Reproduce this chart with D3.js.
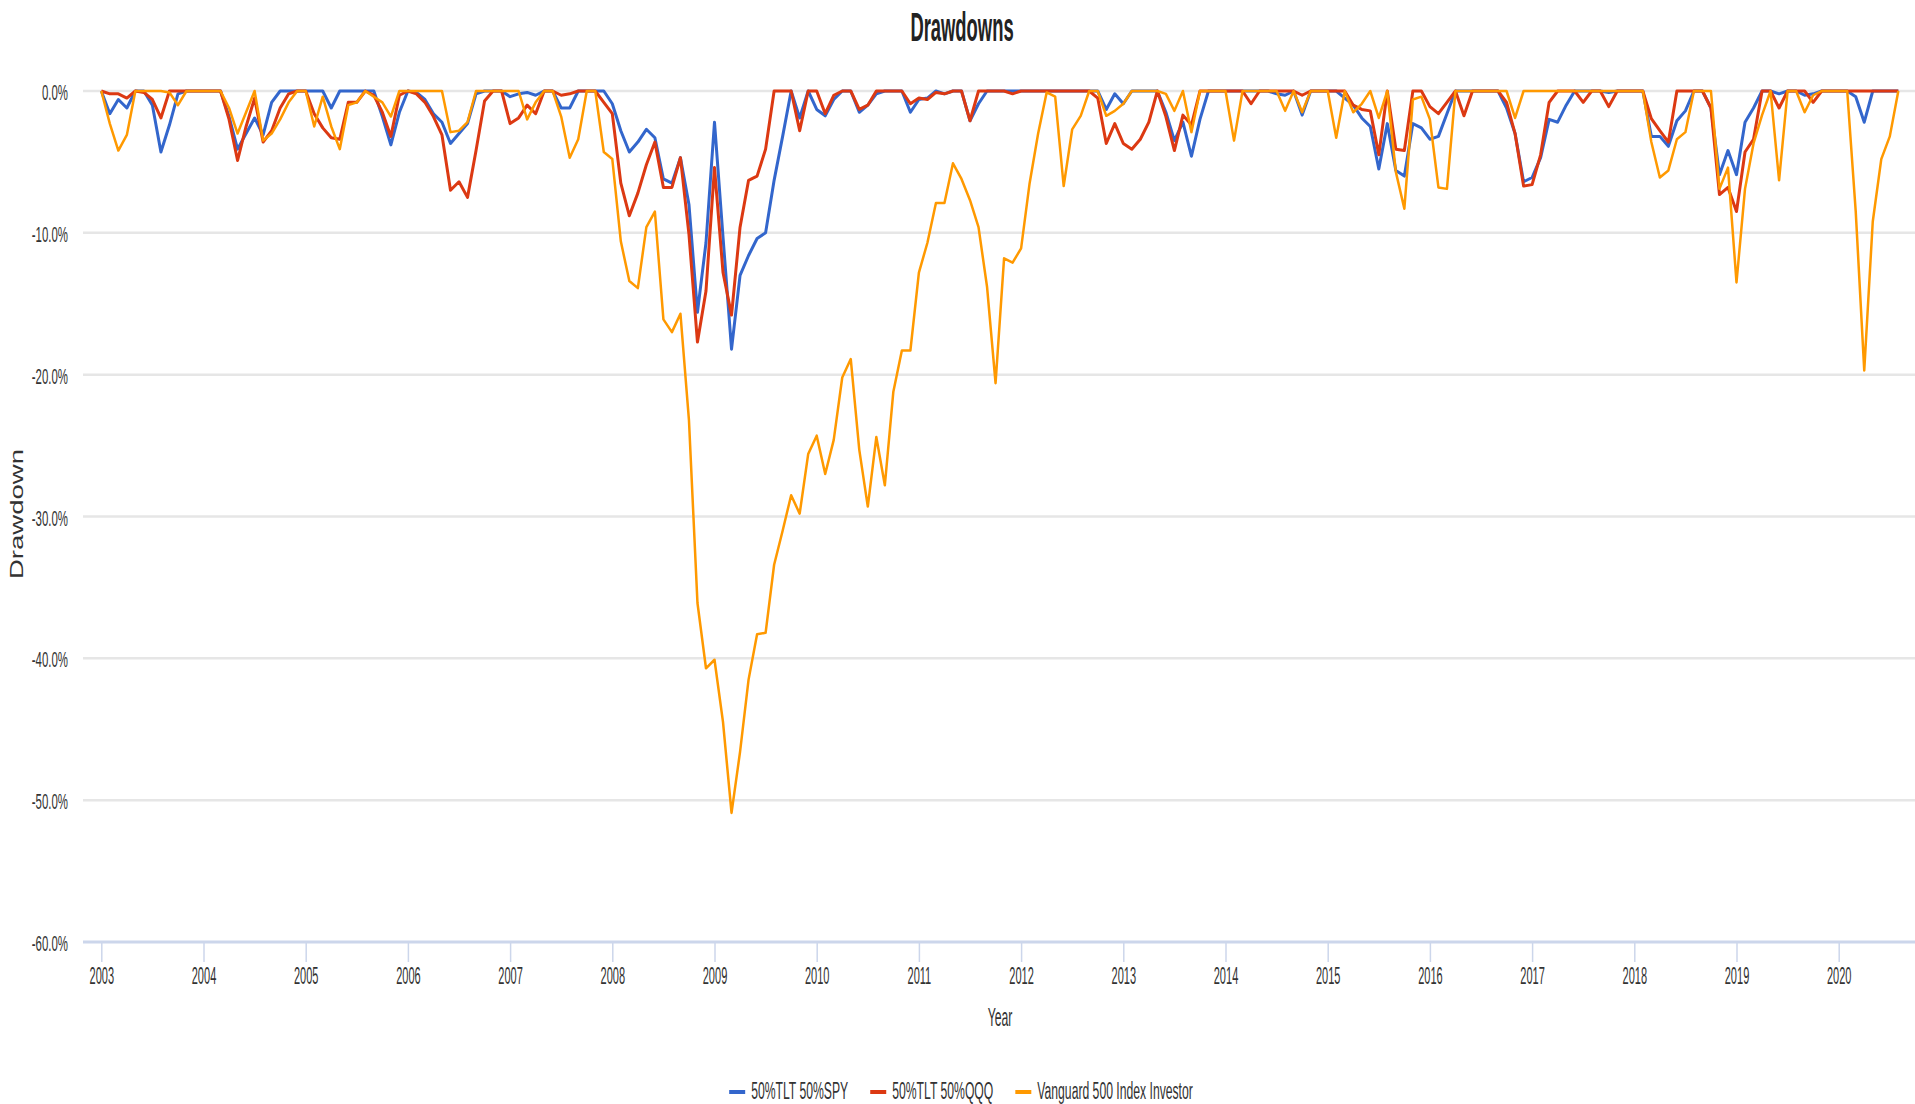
<!DOCTYPE html>
<html>
<head>
<meta charset="utf-8">
<script src="https://cdn.jsdelivr.net/npm/d3@7"></script>
<style>
  body { margin: 0; background: #fff; }
  svg { display: block; font-family: "Liberation Sans", Arial, sans-serif; }
</style>
</head>
<body>
<svg width="1915" height="1104"></svg>
<script>
// monthly drawdowns in %, Jan 2003 .. Aug 2020
const spy = [
  0, -1.6, -0.6, -1.2, 0, 0, -1.0, -4.3, -2.4, -0.2, 0, 0,
  0, 0, 0, -1.8, -4.1, -3.0, -1.9, -3.1, -0.8, 0, 0, 0,
  0, 0, 0, -1.2, 0, 0, 0, 0, 0, -1.8, -3.8, -1.5,
  0, -0.1, -0.6, -1.6, -2.2, -3.7, -3.0, -2.3, -0.2, 0, 0, 0,
  -0.4, -0.2, -0.1, -0.3, 0, 0, -1.2, -1.2, 0, 0, 0, 0,
  -0.9, -2.8, -4.3, -3.6, -2.7, -3.3, -6.2, -6.5, -4.7, -8.0, -15.6, -10.7,
  -2.2, -10.3, -18.2, -13.0, -11.6, -10.4, -10.0, -6.3, -3.2, 0, -1.9, 0,
  -1.3, -1.75, -0.6, 0, 0, -1.5, -1.0, -0.2, 0, 0, 0, -1.5,
  -0.6, -0.5, 0, -0.2, 0, 0, -2.1, -0.9, 0, 0, 0, 0,
  0, 0, 0, 0, 0, 0, 0, 0, 0, 0, -1.3, -0.2,
  -0.9, 0, 0, 0, 0, -1.5, -3.5, -2.2, -4.6, -2.0, 0, 0,
  0, 0, 0, 0, 0, 0, -0.2, -0.3, 0, -1.7, 0, 0,
  0, 0, -0.5, -1.0, -1.9, -2.5, -5.5, -2.3, -5.6, -6.0, -2.3, -2.6,
  -3.4, -3.2, -1.6, 0, 0, 0, 0, 0, 0, -1.2, -3.0, -6.4,
  -6.1, -4.7, -2.0, -2.2, -1.0, 0, 0, 0, 0, -0.1, 0, 0,
  0, 0, -3.2, -3.2, -3.9, -2.1, -1.4, 0, 0, -1.2, -5.9, -4.2,
  -5.9, -2.2, -1.2, 0, 0, -0.2, 0, 0, -0.3, -0.2, 0, 0,
  0, 0, -0.4, -2.2, 0, 0, 0, 0
];
const qqq = [
  0, -0.2, -0.2, -0.5, 0, -0.1, -0.6, -1.9, 0, 0, 0, 0,
  0, 0, 0, -2.0, -4.9, -2.5, -0.5, -3.6, -2.8, -1.2, -0.2, 0,
  0, -1.6, -2.6, -3.3, -3.4, -0.8, -0.8, 0, -0.3, -1.5, -3.2, -0.3,
  0, -0.2, -0.8, -1.8, -3.1, -7.0, -6.4, -7.5, -4.2, -0.7, 0, 0,
  -2.3, -1.9, -1.0, -1.6, 0, 0, -0.3, -0.2, 0, 0, 0, -0.8,
  -1.6, -6.5, -8.8, -7.2, -5.2, -3.6, -6.8, -6.8, -4.7, -10.1, -17.7, -14.1,
  -5.4, -12.8, -15.8, -9.6, -6.3, -6.0, -4.1, 0, 0, 0, -2.8, 0,
  0, -1.6, -0.3, 0, 0, -1.3, -1.0, 0, 0, 0, 0, -0.9,
  -0.5, -0.6, -0.1, -0.2, 0, 0, -2.1, 0, 0, 0, 0, -0.2,
  0, 0, 0, 0, 0, 0, 0, 0, 0, -0.5, -3.7, -2.3,
  -3.7, -4.1, -3.4, -2.2, 0, -1.8, -4.2, -1.7, -2.4, 0, 0, 0,
  0, 0, 0, -0.9, 0, 0, 0, 0, 0, -0.3, 0, 0,
  0, 0, 0, -1.0, -1.3, -1.4, -4.5, 0, -4.1, -4.2, 0, 0,
  -1.1, -1.6, -0.8, 0, -1.75, 0, 0, 0, 0, -0.8, -3.0, -6.7,
  -6.6, -4.5, -0.8, 0, 0, 0, -0.8, 0, 0, -1.1, 0, 0,
  0, 0, -1.95, -2.8, -3.6, 0, 0, 0, 0, -1.2, -7.3, -6.8,
  -8.5, -4.3, -3.4, 0, 0, -1.2, 0, 0, 0, -0.8, 0, 0,
  0, 0, 0, 0, 0, 0, 0, 0
];
const vfinx = [
  0, -2.3, -4.2, -3.1, 0, 0, 0, 0, -0.1, -1.0, 0, 0,
  0, 0, 0, -1.2, -3.0, -1.5, 0, -3.5, -3.0, -2.0, -0.8, 0,
  0, -2.5, -0.4, -2.5, -4.1, -1.0, -0.8, 0, -0.4, -0.8, -1.8, 0,
  0, 0, 0, 0, 0, -2.9, -2.8, -2.2, 0, 0, 0, 0,
  0, 0, -2.0, -0.8, 0, 0, -1.8, -4.7, -3.4, 0, 0, -4.3,
  -4.8, -10.6, -13.4, -13.9, -9.6, -8.5, -16.1, -17.0, -15.7, -23.2, -36.1, -40.7,
  -40.1, -44.5, -50.9, -46.6, -41.5, -38.3, -38.2, -33.4, -31.0, -28.5, -29.8, -25.6,
  -24.3, -27.0, -24.6, -20.2, -18.9, -25.3, -29.3, -24.4, -27.8, -21.2, -18.3, -18.3,
  -12.8, -10.7, -7.9, -7.9, -5.1, -6.2, -7.7, -9.6, -13.8, -20.6, -11.8, -12.1,
  -11.1, -6.5, -3.0, -0.1, -0.4, -6.7, -2.7, -1.75, 0, 0, -1.75, -1.4,
  -0.9, 0, 0, 0, 0, -0.2, -1.4, 0, -2.9, 0, 0, 0,
  0, -3.5, 0, 0, 0, 0, 0, -1.4, 0, -1.5, 0, 0,
  0, -3.3, 0, -1.5, -0.9, 0, -1.9, 0, -5.7, -8.3, -0.6, -0.4,
  -2.0, -6.8, -6.9, 0, 0, 0, 0, 0, 0, 0, -1.9, 0,
  0, 0, 0, 0, 0, 0, 0, 0, 0, 0, 0, 0,
  0, 0, -3.6, -6.1, -5.6, -3.4, -2.9, 0, 0, 0, -6.9, -5.4,
  -13.5, -6.9, -3.7, -1.7, 0, -6.3, 0, 0, -1.5, -0.3, 0, 0,
  0, 0, -8.5, -19.7, -9.2, -4.8, -3.2, 0
];
const startYear = 2003;
const years = d3.range(2003, 2021);
const yTicks = [0, -10, -20, -30, -40, -50, -60];
const names = ['50%TLT 50%SPY', '50%TLT 50%QQQ', 'Vanguard 500 Index Investor'];
const colors = ['#3366cc', '#dc3912', '#ff9900'];

const svg = d3.select('svg');
const plotLeft = 83, plotRight = 1915, plotTop = 91, plotBottom = 942;

// year 2003 tick sits at 101.3px, one year = 102.2px
const x = d3.scaleLinear()
  .domain([2003, 2020])
  .range([101.3, 101.3 + 17 * 102.2]);
const y = d3.scaleLinear().domain([-60, 0]).range([plotBottom, plotTop]);

// condensed text helper (the picture is squeezed sideways)
function label(g, txt, px, py, size, sx, anchor, weight) {
  return g.append('text')
    .attr('transform', `translate(${px},${py}) scale(${sx},1)`)
    .attr('text-anchor', anchor || 'start')
    .attr('font-size', size)
    .attr('font-weight', weight || 'normal')
    .attr('fill', '#333')
    .text(txt);
}

// grid
svg.append('g').selectAll('line')
  .data(yTicks.filter(d => d > -60))
  .join('line')
    .attr('x1', plotLeft).attr('x2', plotRight)
    .attr('y1', d => y(d)).attr('y2', d => y(d))
    .attr('stroke', '#e6e6e6')
    .attr('stroke-width', 2.5);

// y axis labels
const yAxis = svg.append('g')
  .attr('transform', `translate(${plotLeft},0)`)
  .call(d3.axisLeft(y).tickValues(yTicks).tickSize(0).tickFormat(d => d.toFixed(1) + '%'));
yAxis.select('.domain').remove();
yAxis.selectAll('text')
  .attr('x', 0).attr('y', 0).attr('dy', null)
  .attr('transform', 'translate(-15,8.6) scale(0.52,1)')
  .attr('font-size', 22)
  .attr('fill', '#333');
yAxis.attr('font-family', null).attr('font-size', null);

// x axis
const xAxis = svg.append('g')
  .attr('transform', `translate(0,${plotBottom})`)
  .call(d3.axisBottom(x).tickValues(years).tickSize(20).tickFormat(d3.format('d')));
xAxis.select('.domain').remove();
xAxis.attr('font-family', null).attr('font-size', null);
xAxis.selectAll('.tick line').attr('stroke', '#ccd6eb').attr('stroke-width', 1.5);
xAxis.selectAll('text')
  .attr('y', 0).attr('dy', null)
  .attr('transform', 'translate(0,42) scale(0.46,1)')
  .attr('font-size', 24)
  .attr('fill', '#333');
svg.append('line')
  .attr('x1', plotLeft).attr('x2', plotRight)
  .attr('y1', plotBottom).attr('y2', plotBottom)
  .attr('stroke', '#ccd6eb').attr('stroke-width', 3);

// series
const line = d3.line()
  .x((d, i) => x(startYear + i / 12))
  .y(d => y(d));
[spy, qqq, vfinx].forEach((s, k) => {
  svg.append('path')
    .datum(s)
    .attr('d', line)
    .attr('fill', 'none')
    .attr('stroke', colors[k])
    .attr('stroke-width', k === 2 ? 2.5 : 3)
    .attr('stroke-linejoin', 'round');
});

// titles
label(svg, 'Drawdowns', 962, 40.5, 40, 0.46, 'middle', 'bold').attr('fill', '#222');
label(svg, 'Year', 1000, 1026, 26, 0.47, 'middle');
svg.append('text')
  .attr('transform', 'translate(23,514) rotate(-90) scale(1.53,1)')
  .attr('text-anchor', 'middle')
  .attr('font-size', 18)
  .attr('fill', '#333')
  .text('Drawdown');

// legend
const legend = svg.append('g');
const lsx = 0.53;
let cx = 0;
names.forEach((n, k) => {
  const it = legend.append('g').attr('transform', `translate(${cx},0)`);
  it.append('line')
    .attr('x1', 0).attr('x2', 16)
    .attr('y1', 1092).attr('y2', 1092)
    .attr('stroke', colors[k]).attr('stroke-width', 4);
  const t = label(it, n, 22, 1099, 23, lsx);
  cx += 22 + t.node().getComputedTextLength() * lsx + 22;
});
const lw = cx - 22;
legend.attr('transform', `translate(${961 - lw / 2},0)`);
</script>
</body>
</html>
